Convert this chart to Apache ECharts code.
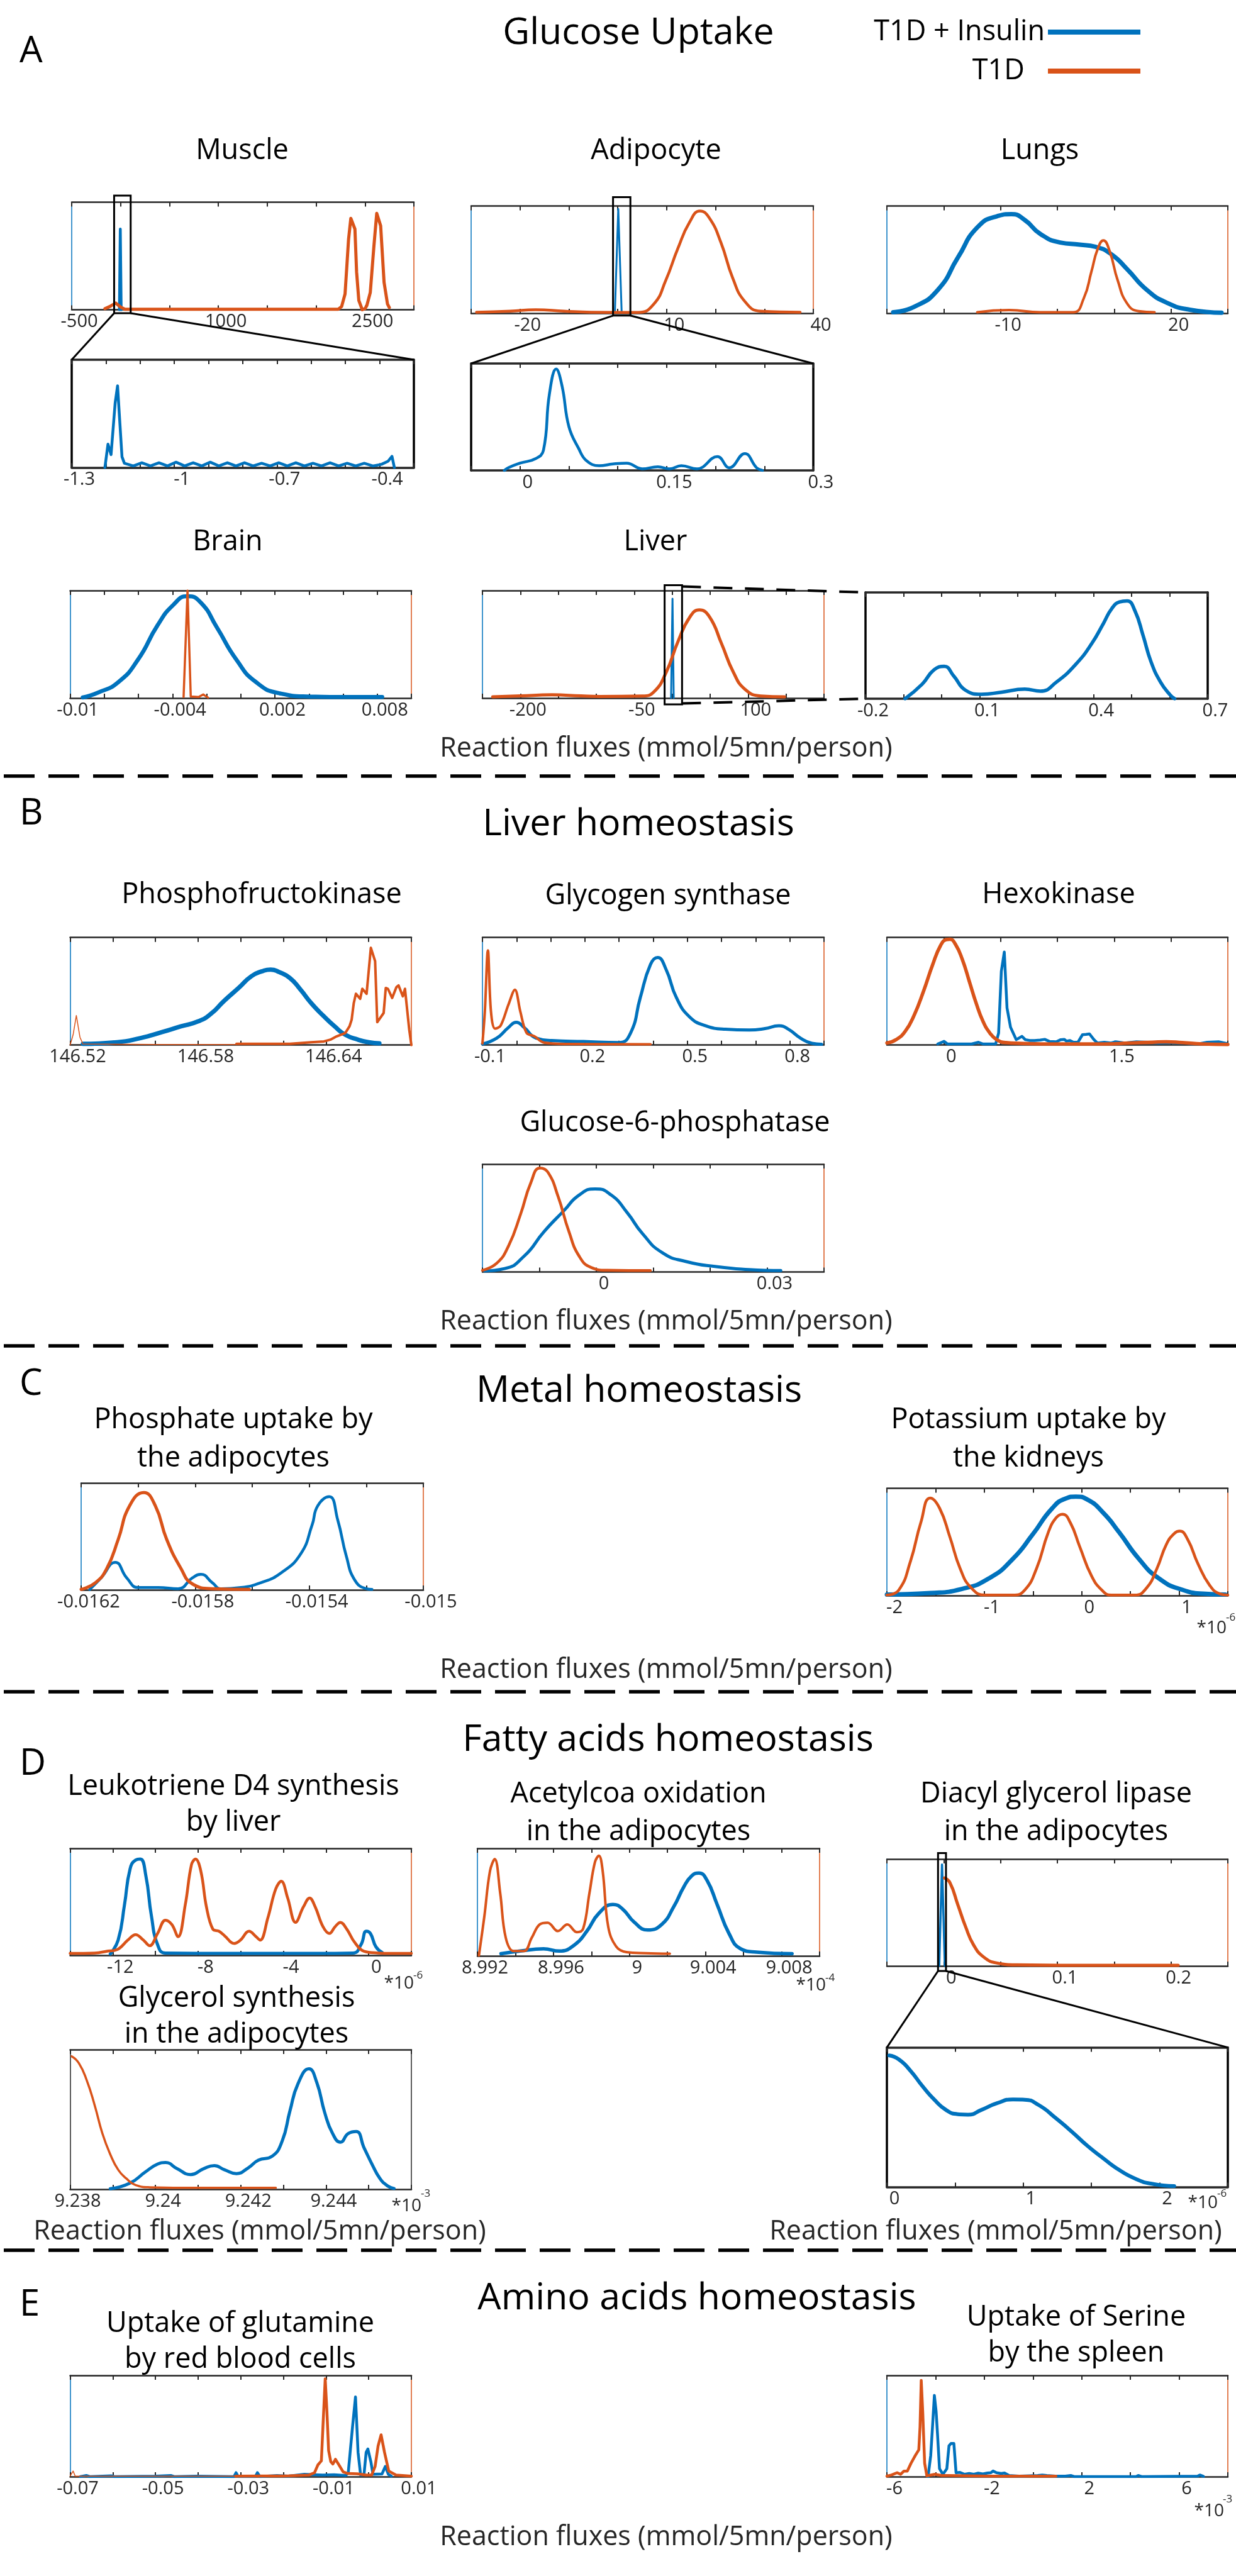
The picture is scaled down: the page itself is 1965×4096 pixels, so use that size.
<!DOCTYPE html>
<html><head><meta charset="utf-8">
<script src="https://cdn.jsdelivr.net/npm/echarts@6/dist/echarts.min.js"></script>
<style>html,body{margin:0;padding:0;background:#fff}#c{width:1965px;height:4096px}</style>
</head><body><div id="c"></div>
<script>
// ================= axis scales [min, max, interval] =================
const muscleScale = [-500, 3000, 500];
const adipoScale = [-30, 40, 10];
const lungsScale = [-30, 30, 10];
const muscleZoomScale = [-1.3, -0.3, 0.1];
const adipoZoomScale = [-0.05, 0.3, 0.05];
const brainScale = [-0.01, 0.01, 0.002];
const liverScale = [-250, 200, 50];
const liverZoomScale = [-0.2, 0.7, 0.1];
const pfkScale = [146.52, 146.68, 0.02];
const glycoScale = [-0.1, 0.9, 0.1];
const hexoScale = [-0.5, 2.5, 0.5];
const g6pScale = [-0.02, 0.04, 0.01];
const phosScale = [-0.0162, -0.015, 0.0002];
const potScale = [-2, 1.5, 0.5];
const leukoScale = [-14, 2, 2];
const acetScale = [8.992, 9.01, 0.002];
const diacylScale = [-0.05, 0.25, 0.05];
const glyScale = [9.238, 9.246, 0.001];
const dzScale = [0, 2.5, 0.5];
const glnScale = [-0.07, 0.01, 0.01];
const serScale = [-6, 8, 2];

// ================= tick labels =================
const muscleTicks = ['-500', '1000', '2500'];
const adipoTicks = ['-20', '10', '40'];
const lungsTicks = ['-10', '20'];
const muscleZoomTicks = ['-1.3', '-1', '-0.7', '-0.4'];
const adipoZoomTicks = ['0', '0.15', '0.3'];
const brainTicks = ['-0.01', '-0.004', '0.002', '0.008'];
const liverTicks = ['-200', '-50', '100'];
const liverZoomTicks = ['-0.2', '0.1', '0.4', '0.7'];
const pfkTicks = ['146.52', '146.58', '146.64'];
const glycoTicks = ['-0.1', '0.2', '0.5', '0.8'];
const hexoTicks = ['0', '1.5'];
const g6pTicks = ['0', '0.03'];
const phosTicks = ['-0.0162', '-0.0158', '-0.0154', '-0.015'];
const potTicks = ['-2', '-1', '0', '1'];
const leukoTicks = ['-12', '-8', '-4', '0'];
const acetTicks = ['8.992', '8.996', '9', '9.004', '9.008'];
const diacylTicks = ['0', '0.1', '0.2'];
const glyTicks = ['9.238', '9.24', '9.242', '9.244'];
const dzTicks = ['0', '1', '2'];
const glnTicks = ['-0.07', '-0.05', '-0.03', '-0.01', '0.01'];
const serTicks = ['-6', '-2', '2', '6'];

// ================= series values [flux, relative density] =================
const muscleBlue = [[-12,0],[-3,0.75],[6,0]];
const muscleRed = [[-160,0.01],[-110,0.03],[-50,0.062],[0,0.025],[44,0.005],[1000,0.005],[2226,0.005],[2261,0.03],[2296,0.147],[2332,0.657],[2355,0.85],[2397,0.75],[2414,0.35],[2437,0.085],[2472,0.0],[2500,0.01],[2519,0.04],[2554,0.16],[2590,0.58],[2620,0.896],[2660,0.78],[2695,0.255],[2730,0.054],[2749,0.02]];
const adipoBlue = [[-0.6,0],[0.1,0.973],[0.8,0]];
const adipoRed = [[-28.9,0.01],[-22,0.02],[-16.8,0.033],[-11,0.02],[-5.5,0.01],[4.2,0.008],[7.4,0.087],[9.8,0.305],[12.3,0.605],[14.7,0.85],[16.8,0.954],[18.7,0.89],[21.1,0.66],[23.5,0.33],[26,0.11],[29.2,0.02],[37.3,0.01]];
const lungsBlue = [[-28.9,0.01],[-25.2,0.06],[-21,0.22],[-17.5,0.52],[-14.1,0.8],[-10.6,0.905],[-8.1,0.924],[-5.75,0.87],[-3,0.74],[0.5,0.66],[3.95,0.64],[6.7,0.62],[9.5,0.55],[12.3,0.41],[15.7,0.22],[19.2,0.1],[23.3,0.033],[28.9,0.005]];
const lungsRed = [[-14.1,0.01],[-8.5,0.03],[-3,0.01],[2.8,0.01],[4.65,0.14],[6,0.39],[7.1,0.6],[8.1,0.68],[9.2,0.58],[10.6,0.31],[12.3,0.09],[14.3,0.02],[17.1,0.01]];
const muscleZoomBlue = [[-1.203,0],[-1.194,0.217],[-1.185,0.12],[-1.173,0.6],[-1.166,0.758],[-1.159,0.4],[-1.153,0.1],[-1.146,0.04],[-1.12,0.015],[-1.095,0.045],[-1.07,0.015],[-1.045,0.045],[-1.02,0.015],[-0.995,0.05],[-0.97,0.015],[-0.945,0.045],[-0.92,0.015],[-0.895,0.05],[-0.87,0.015],[-0.845,0.045],[-0.82,0.015],[-0.795,0.045],[-0.77,0.015],[-0.745,0.04],[-0.72,0.015],[-0.695,0.045],[-0.67,0.015],[-0.645,0.045],[-0.62,0.015],[-0.595,0.04],[-0.57,0.015],[-0.545,0.045],[-0.52,0.015],[-0.495,0.04],[-0.47,0.015],[-0.445,0.04],[-0.42,0.015],[-0.395,0.03],[-0.375,0.06],[-0.364,0.104],[-0.357,0.0]];
const adipoZoomBlue = [[-0.016,0],[-0.012,0.025],[0.0,0.068],[0.016,0.11],[0.024,0.19],[0.03,0.71],[0.037,0.948],[0.043,0.79],[0.05,0.41],[0.06,0.205],[0.068,0.091],[0.081,0.044],[0.095,0.06],[0.109,0.068],[0.125,0.015],[0.141,0.034],[0.153,0.015],[0.165,0.044],[0.181,0.015],[0.202,0.129],[0.214,0.025],[0.23,0.158],[0.242,0.025],[0.248,0]];
const brainBlue = [[-0.00926,0.006],[-0.00834,0.053],[-0.00718,0.148],[-0.00603,0.356],[-0.00487,0.678],[-0.00395,0.867],[-0.00312,0.947],[-0.00233,0.886],[-0.00141,0.66],[-0.00025,0.356],[0.0009,0.148],[0.00229,0.044],[0.0039,0.015],[0.00621,0.01],[0.00829,0.01]];
const brainRed = [[-0.00335,0.01],[-0.00312,1.0],[-0.00293,0.015],[-0.00247,0.01],[-0.0022,0.034],[-0.00192,0.005]];
const liverBlue = [[-1.5,0],[0.4,0.924],[2,0]];
const liverRed = [[-236.5,0.011],[-200,0.02],[-158.5,0.03],[-120,0.02],[-96,0.015],[-39,0.019],[-23.4,0.0625],[-7.8,0.242],[7.7,0.527],[23.3,0.754],[35.8,0.82],[49.3,0.754],[64.9,0.508],[80.5,0.242],[96,0.081],[116.8,0.019],[148,0.011]];
const liverZoomBlue = [[-0.096,0],[-0.051,0.137],[-0.02,0.271],[0.007,0.305],[0.032,0.214],[0.063,0.08],[0.105,0.042],[0.157,0.061],[0.219,0.09],[0.26,0.071],[0.302,0.156],[0.354,0.328],[0.395,0.519],[0.426,0.71],[0.447,0.844],[0.468,0.91],[0.488,0.92],[0.509,0.824],[0.53,0.595],[0.551,0.347],[0.576,0.156],[0.602,0.032],[0.613,0]];
const pfkBlue = [[146.526,0.011],[146.542,0.026],[146.553,0.065],[146.563,0.12],[146.572,0.174],[146.58,0.22],[146.586,0.29],[146.592,0.407],[146.599,0.531],[146.605,0.64],[146.61,0.686],[146.614,0.702],[146.618,0.679],[146.623,0.624],[146.628,0.516],[146.633,0.391],[146.639,0.267],[146.644,0.174],[146.649,0.096],[146.655,0.05],[146.66,0.026],[146.665,0.016]];
const pfkRedLeft = [[146.52,0],[146.5214,0.096],[146.5229,0.275],[146.5246,0.073],[146.526,0.01],[146.56,0.005],[146.598,0.006]];
const pfkRed = [[146.598,0.011],[146.623,0.011],[146.633,0.026],[146.639,0.034],[146.642,0.05],[146.645,0.081],[146.649,0.112],[146.651,0.174],[146.652,0.236],[146.653,0.391],[146.654,0.477],[146.656,0.43],[146.657,0.523],[146.659,0.477],[146.661,0.904],[146.663,0.78],[146.664,0.213],[146.667,0.298],[146.668,0.531],[146.669,0.523],[146.671,0.438],[146.673,0.539],[146.674,0.554],[146.676,0.453],[146.677,0.523],[146.679,0.143],[146.68,0]];
const glycoBlue = [[-0.1,0.01],[-0.058,0.065],[-0.024,0.163],[-0.001,0.212],[0.022,0.163],[0.057,0.065],[0.103,0.042],[0.196,0.033],[0.3,0.023],[0.334,0.114],[0.362,0.44],[0.392,0.75],[0.413,0.814],[0.438,0.7],[0.468,0.44],[0.507,0.26],[0.554,0.179],[0.611,0.147],[0.681,0.14],[0.727,0.153],[0.768,0.179],[0.796,0.147],[0.831,0.065],[0.865,0.016],[0.893,0.007]];
const glycoRed = [[-0.1,0.016],[-0.093,0.31],[-0.084,0.88],[-0.075,0.31],[-0.063,0.153],[-0.047,0.179],[-0.024,0.375],[-0.005,0.515],[0.011,0.31],[0.029,0.114],[0.052,0.081],[0.08,0.023],[0.149,0.01],[0.392,0.007]];
const hexoBlue = [[-0.053,0.01],[0.003,0.034],[0.034,0.01],[0.245,0.01],[0.306,0.026],[0.346,0.01],[0.457,0.01],[0.483,0.112],[0.507,0.686],[0.533,0.865],[0.557,0.345],[0.588,0.166],[0.638,0.05],[0.688,0.081],[0.718,0.05],[0.758,0.042],[0.799,0.042],[0.849,0.047],[0.889,0.053],[0.93,0.034],[0.99,0.03],[1.03,0.05],[1.06,0.053],[1.08,0.037],[1.111,0.042],[1.141,0.026],[1.181,0.026],[1.221,0.096],[1.252,0.099],[1.282,0.104],[1.322,0.05],[1.352,0.019],[1.413,0.026],[1.473,0.019],[1.514,0.031],[1.594,0.019],[1.695,0.03],[1.795,0.026],[1.896,0.019],[1.977,0.023],[2.097,0.019],[2.238,0.01],[2.319,0.026],[2.419,0.03],[2.49,0.014]];
const hexoRed = [[-0.5,0.019],[-0.419,0.05],[-0.339,0.127],[-0.258,0.283],[-0.178,0.5],[-0.097,0.748],[-0.027,0.927],[0.023,0.981],[0.054,0.984],[0.104,0.935],[0.164,0.795],[0.225,0.593],[0.285,0.391],[0.346,0.22],[0.406,0.112],[0.466,0.05],[0.547,0.023],[0.668,0.016],[0.99,0.01],[1.433,0.01],[1.634,0.019],[1.836,0.026],[1.957,0.031],[2.097,0.023],[2.279,0.01],[2.5,0.006]];
const g6pBlue = [[-0.0196,0.01],[-0.0161,0.032],[-0.0127,0.146],[-0.0092,0.373],[-0.0057,0.568],[-0.003,0.714],[-0.0002,0.77],[0.0026,0.714],[0.0054,0.552],[0.0081,0.357],[0.0116,0.179],[0.0158,0.097],[0.0213,0.049],[0.0268,0.023],[0.0324,0.013]];
const g6pRed = [[-0.02,0.016],[-0.0175,0.081],[-0.0154,0.244],[-0.0133,0.536],[-0.0115,0.828],[-0.0099,0.964],[-0.0085,0.925],[-0.0067,0.698],[-0.0048,0.373],[-0.003,0.146],[-0.0009,0.042],[0.0019,0.016],[0.0095,0.013]];
const phosBlue = [[-0.01617,0.004],[-0.01613,0.112],[-0.01608,0.258],[-0.01604,0.112],[-0.016,0.022],[-0.01593,0.022],[-0.01586,0.011],[-0.01581,0.112],[-0.01578,0.146],[-0.01574,0.067],[-0.01571,0.011],[-0.01564,0.022],[-0.01557,0.067],[-0.0155,0.157],[-0.01543,0.337],[-0.01539,0.607],[-0.01537,0.787],[-0.01533,0.872],[-0.0153,0.652],[-0.01527,0.315],[-0.01524,0.09],[-0.0152,0.011],[-0.01518,0.004]];
const phosRed = [[-0.0162,0.0045],[-0.01615,0.067],[-0.01611,0.2],[-0.01607,0.472],[-0.01603,0.787],[-0.01598,0.91],[-0.01594,0.787],[-0.0159,0.472],[-0.01585,0.2],[-0.01581,0.056],[-0.01574,0.011],[-0.01561,0.0045]];
const potBlue = [[-2,0.009],[-1.555,0.023],[-1.232,0.061],[-0.949,0.162],[-0.707,0.342],[-0.505,0.568],[-0.302,0.815],[-0.165,0.905],[-0.06,0.923],[0.061,0.894],[0.223,0.77],[0.384,0.59],[0.587,0.342],[0.789,0.162],[1.031,0.054],[1.274,0.016],[1.476,0.009]];
const potRed = [[-2,0.0045],[-1.879,0.05],[-1.758,0.32],[-1.652,0.68],[-1.555,0.91],[-1.459,0.815],[-1.353,0.545],[-1.248,0.252],[-1.135,0.072],[-0.99,0.0045],[-0.707,0.0045],[-0.586,0.05],[-0.464,0.252],[-0.343,0.59],[-0.263,0.725],[-0.198,0.759],[-0.117,0.68],[-0.02,0.455],[0.1,0.185],[0.207,0.05],[0.304,0.0045],[0.546,0.0045],[0.667,0.072],[0.772,0.252],[0.869,0.477],[0.95,0.579],[1.007,0.601],[1.088,0.523],[1.193,0.297],[1.314,0.095],[1.419,0.016],[1.5,0.0045]];
const leukoBlue = [[-12.12,0.012],[-11.75,0.141],[-11.45,0.474],[-11.19,0.807],[-10.93,0.89],[-10.71,0.9],[-10.45,0.744],[-10.19,0.37],[-9.9,0.1],[-9.53,0.021],[-6.2,0.017],[-2.51,0.017],[-0.73,0.021],[-0.36,0.1],[-0.11,0.225],[0.08,0.204],[0.34,0.079],[0.63,0.027]];
const leukoRed = [[-14,0.017],[-12.85,0.021],[-12.3,0.037],[-11.75,0.058],[-11.3,0.141],[-10.93,0.193],[-10.56,0.141],[-10.27,0.089],[-9.9,0.204],[-9.53,0.328],[-9.23,0.287],[-8.94,0.173],[-8.6,0.474],[-8.31,0.848],[-8.12,0.9],[-7.87,0.786],[-7.61,0.453],[-7.31,0.245],[-7.02,0.225],[-6.76,0.183],[-6.31,0.11],[-6.02,0.141],[-5.61,0.225],[-5.28,0.173],[-5.09,0.141],[-4.73,0.349],[-4.36,0.62],[-4.1,0.692],[-3.8,0.536],[-3.43,0.308],[-3.06,0.453],[-2.77,0.536],[-2.51,0.453],[-2.14,0.266],[-1.84,0.204],[-1.58,0.266],[-1.33,0.308],[-1.03,0.245],[-0.66,0.121],[-0.22,0.037],[0.45,0.021],[1.19,0.017],[2,0.017]];
const acetBlue = [[8.99324,0.02],[8.99424,0.045],[8.99548,0.066],[8.99631,0.045],[8.99714,0.107],[8.99776,0.231],[8.99839,0.396],[8.99913,0.478],[8.99963,0.437],[9.00025,0.313],[9.00096,0.241],[9.0017,0.293],[9.00233,0.458],[9.00286,0.643],[9.00328,0.746],[9.00365,0.771],[9.00407,0.705],[9.00461,0.478],[9.00523,0.21],[9.00585,0.066],[9.00668,0.035],[9.00855,0.02]];
const acetRed = [[8.99208,0.004],[8.99237,0.375],[8.99266,0.788],[8.99291,0.9],[8.9932,0.581],[8.99349,0.169],[8.99391,0.045],[8.99445,0.045],[8.99486,0.169],[8.99528,0.293],[8.99569,0.309],[8.99623,0.231],[8.99673,0.293],[8.99723,0.221],[8.99756,0.252],[8.99789,0.581],[8.99818,0.87],[8.99839,0.932],[8.99859,0.788],[8.99888,0.272],[8.9993,0.087],[8.99984,0.035],[9.00087,0.025],[9.00212,0.02]];
const diacylBlue = [[-0.004,0],[-0.0015,0.948],[0.001,0]];
const diacylRed = [[0.0006,0.823],[0.0054,0.78],[0.0124,0.573],[0.0193,0.365],[0.0262,0.198],[0.0352,0.083],[0.047,0.027],[0.0643,0.01],[0.1405,0.006],[0.2063,0.006]];
const glyBlue = [[9.238942,0.003],[9.239404,0.044],[9.239774,0.126],[9.240051,0.18],[9.240236,0.191],[9.240513,0.146],[9.240827,0.105],[9.241123,0.146],[9.241381,0.169],[9.241621,0.139],[9.241898,0.112],[9.242175,0.153],[9.242415,0.208],[9.24273,0.235],[9.24297,0.344],[9.243155,0.563],[9.24334,0.754],[9.243599,0.863],[9.243783,0.764],[9.243968,0.549],[9.244153,0.399],[9.244338,0.337],[9.244522,0.399],[9.244707,0.413],[9.244892,0.296],[9.245076,0.18],[9.245261,0.078],[9.245446,0.023],[9.245594,0.005]];
const glyRed = [[9.238037,0.952],[9.238203,0.904],[9.238388,0.781],[9.238573,0.604],[9.238757,0.399],[9.238942,0.249],[9.239127,0.139],[9.239312,0.078],[9.239534,0.03],[9.239866,0.014],[9.240975,0.01],[9.242822,0.01]];
const dzBlue = [[0.017,0.943],[0.087,0.915],[0.173,0.833],[0.26,0.724],[0.346,0.628],[0.433,0.553],[0.52,0.522],[0.595,0.519],[0.693,0.553],[0.808,0.601],[0.924,0.628],[1.01,0.626],[1.114,0.587],[1.241,0.492],[1.357,0.396],[1.472,0.294],[1.588,0.205],[1.703,0.123],[1.819,0.061],[1.935,0.025],[2.107,0.007]];
const glnBlue = [[-0.0676,0],[-0.0662,0.011],[-0.0654,0],[-0.0604,0.008],[-0.0596,0],[-0.0499,0.005],[-0.0464,0.011],[-0.0456,0],[-0.0403,0.004],[-0.0316,0],[-0.0311,0.039],[-0.0306,0],[-0.0266,0],[-0.0261,0.039],[-0.0255,0],[-0.0215,0.011],[-0.0188,0.005],[-0.0151,0.023],[-0.0108,0.016],[-0.0081,0.019],[-0.0054,0.011],[-0.0048,0.039],[-0.0038,0.491],[-0.0031,0.787],[-0.0025,0.241],[-0.0019,0.016],[-0.0011,0.023],[-0.0006,0.241],[-0.0002,0.273],[0.0005,0.148],[0.001,0.023],[0.0031,0.026],[0.0039,0.101],[0.0046,0.023],[0.0053,0.005]];
const glnRedLeft = [[-0.07,0.005],[-0.0693,0.055],[-0.0688,0.004],[-0.05,0.004],[-0.0312,0.004]];
const glnRed = [[-0.0312,0.005],[-0.0188,0.008],[-0.014,0.016],[-0.0127,0.039],[-0.0119,0.117],[-0.0111,0.156],[-0.0107,0.522],[-0.0102,0.966],[-0.0098,0.646],[-0.0094,0.257],[-0.0089,0.148],[-0.0084,0.125],[-0.0078,0.171],[-0.007,0.117],[-0.006,0.047],[-0.0049,0.031],[-0.0027,0.028],[-0.0006,0.016],[0.0007,0.016],[0.0015,0.101],[0.0022,0.304],[0.0029,0.413],[0.0037,0.241],[0.0047,0.055],[0.0064,0.016],[0.01,0.005]];
const serBlue = [[-4.31,0],[-4.2,0.21],[-4.12,0.522],[-4.05,0.802],[-3.98,0.646],[-3.92,0.413],[-3.84,0.078],[-3.7,0.023],[-3.54,0.078],[-3.45,0.304],[-3.37,0.327],[-3.25,0.327],[-3.16,0.039],[-3.0,0.042],[-2.81,0.023],[-2.62,0.031],[-2.43,0.023],[-2.25,0.034],[-2.06,0.026],[-1.87,0.036],[-1.73,0.039],[-1.64,0.055],[-1.5,0.039],[-1.31,0.031],[-1.17,0.036],[-0.98,0.011],[-0.56,0.005],[0.19,0.011],[0.38,0.016],[0.57,0.011],[0.94,0.005],[1.32,0.005],[1.55,0.011],[1.69,0],[4.23,0],[4.32,0.011],[4.46,0],[6.76,0.005],[6.85,0.016],[7.0,0.002]];
const serRed = [[-6,0.005],[-5.81,0.016],[-5.58,0.039],[-5.44,0.023],[-5.3,0.055],[-5.16,0.055],[-5.01,0.132],[-4.83,0.21],[-4.69,0.265],[-4.64,0.49],[-4.59,0.95],[-4.53,0.646],[-4.45,0.132],[-4.36,0.008],[-4.03,0.023],[-3.75,0.011],[-3.47,0.011],[-1.68,0.005],[0.94,0.005]];

// ================= styling / layout =================
const FONT = '"Open Sans","Noto Sans",sans-serif';
const BLUE = '#0072BD', RED = '#D95319', INK = '#262626';
const NAME_B = 'T1D + Insulin', NAME_R = 'T1D';

// grid rectangles: [left, top, width, height]; series: [data, side, lineWidth, smooth]
const panels = [
  {g:[114,321.5,544,171], sc:muscleScale, tk:muscleTicks, s:[[muscleBlue,'b',4.5,0],[muscleRed,'r',5,0]]},
  {g:[749,327.6,544,170.5], sc:adipoScale, tk:adipoTicks, s:[[adipoBlue,'b',3,0],[adipoRed,'r',4.5,0.5]]},
  {g:[1410,327.6,542,170.5], sc:lungsScale, tk:lungsTicks, s:[[lungsBlue,'b',7,0.55],[lungsRed,'r',4,0.5]]},
  {g:[114,572,544,171.5], sc:muscleZoomScale, tk:muscleZoomTicks, frame:'zoom', s:[[muscleZoomBlue,'b',4.5,0]]},
  {g:[749,578,544,170], sc:adipoZoomScale, tk:adipoZoomTicks, frame:'zoom', s:[[adipoZoomBlue,'b',4.5,0.45]]},
  {g:[111.5,939,542.5,171], sc:brainScale, tk:brainTicks, s:[[brainBlue,'b',6.5,0.55],[brainRed,'r',3.5,0]]},
  {g:[767,939,543,171], sc:liverScale, tk:liverTicks, s:[[liverBlue,'b',3,0],[liverRed,'r',5,0.5]]},
  {g:[1376,942,544,169], sc:liverZoomScale, tk:liverZoomTicks, frame:'zoom', s:[[liverZoomBlue,'b',5.5,0.5]]},
  {g:[111.5,1490.7,542.5,171], sc:pfkScale, tk:pfkTicks, s:[[pfkBlue,'b',7,0.55],[pfkRedLeft,'r',1.5,0],[pfkRed,'r',4,0]]},
  {g:[767,1490.7,543,171], sc:glycoScale, tk:glycoTicks, s:[[glycoBlue,'b',5,0.5],[glycoRed,'r',4,0.35]]},
  {g:[1410,1490.7,542,171], sc:hexoScale, tk:hexoTicks, s:[[hexoBlue,'b',4.5,0],[hexoRed,'r',5.5,0.5]]},
  {g:[767,1851,543,171.6], sc:g6pScale, tk:g6pTicks, s:[[g6pBlue,'b',5,0.55],[g6pRed,'r',4.5,0.5]]},
  {g:[129,2358,544,170], sc:phosScale, tk:phosTicks, s:[[phosBlue,'b',4.5,0.5],[phosRed,'r',5,0.5]]},
  {g:[1410,2366.6,542,170.4], sc:potScale, tk:potTicks, s:[[potBlue,'b',7,0.55],[potRed,'r',4.5,0.5]]},
  {g:[111.5,2939,542.5,170], sc:leukoScale, tk:leukoTicks, s:[[leukoBlue,'b',5,0.5],[leukoRed,'r',4.5,0.4]]},
  {g:[759,2939,544,171], sc:acetScale, tk:acetTicks, s:[[acetBlue,'b',5.5,0.5],[acetRed,'r',4,0.4]]},
  {g:[1410,2956,542,170], sc:diacylScale, tk:diacylTicks, s:[[diacylBlue,'b',3.5,0],[diacylRed,'r',5,0.5]]},
  {g:[111.5,3259,542.5,222], sc:glyScale, tk:glyTicks, frame:'thin', s:[[glyBlue,'b',5,0.5],[glyRed,'r',3.5,0.5]]},
  {g:[1410,3255.6,542,222], sc:dzScale, tk:dzTicks, frame:'zoom', s:[[dzBlue,'b',6,0.55]]},
  {g:[111.5,3777,542.5,161], sc:glnScale, tk:glnTicks, s:[[glnBlue,'b',4.5,0],[glnRedLeft,'r',1.5,0],[glnRed,'r',4.5,0]]},
  {g:[1410,3777,542,161], sc:serScale, tk:serTicks, s:[[serBlue,'b',4.5,0],[serRed,'r',4.5,0]]}
];

function labeler(labels, step) {
  return function (v) {
    for (const s of labels) { if (Math.abs(parseFloat(s) - v) < step * 0.01) return s; }
    return '';
  };
}

const grid = [], xAxis = [], yAxis = [], series = [];
panels.forEach((p, i) => {
  const [l, t, w, h] = p.g;
  grid.push({left: l, top: t, width: w, height: h, show: false});
  const tb = p.frame === 'zoom' ? 3.5 : 2.5;
  const side = p.frame === 'zoom' ? {l: '#000', r: '#000', w: 3.5}
             : p.frame === 'thin' ? {l: INK, r: INK, w: 1.5}
             : {l: BLUE, r: RED, w: 1.5};
  const [mn, mx, iv] = p.sc;
  const base = {type: 'value', gridIndex: i, min: mn, max: mx, interval: iv, splitLine: {show: false}};
  const line = {show: true, onZero: false, lineStyle: {color: INK, width: tb}};
  const tick = {show: true, inside: true, length: 7, lineStyle: {color: INK, width: 2}};
  xAxis.push(Object.assign({}, base, {position: 'bottom', axisLine: line, axisTick: tick,
    axisLabel: {show: true, formatter: labeler(p.tk, iv), fontFamily: FONT, fontSize: 29, color: INK,
      margin: 5, padding: [0, 0, 0, 24], showMinLabel: true, showMaxLabel: true}}));
  xAxis.push(Object.assign({}, base, {position: 'top', axisLine: line, axisTick: tick, axisLabel: {show: false}}));
  const yb = {type: 'value', gridIndex: i, min: 0, max: 1, splitLine: {show: false}, axisTick: {show: false}, axisLabel: {show: false}};
  yAxis.push(Object.assign({}, yb, {position: 'left', axisLine: {show: true, onZero: false, lineStyle: {color: side.l, width: side.w}}}));
  yAxis.push(Object.assign({}, yb, {position: 'right', axisLine: {show: true, onZero: false, lineStyle: {color: side.r, width: side.w}}}));
  p.s.forEach(([data, which, width, sm]) => {
    const c = which === 'b' ? BLUE : RED;
    series.push({
      type: 'line', name: which === 'b' ? NAME_B : NAME_R,
      xAxisIndex: 2 * i, yAxisIndex: which === 'b' ? 2 * i : 2 * i + 1,
      data: data, showSymbol: false, symbol: 'none', smooth: sm || false,
      color: c, itemStyle: {color: c}, lineStyle: {color: c, width: width, cap: 'round', join: 'round'},
      z: which === 'b' ? 3 : 4, silent: true, animation: false
    });
  });
});

// ---------------- text (titles, labels) ----------------
function T(text, x, capTop, size, lh, align, color) {
  lh = lh || Math.round(size * 1.25);
  return {text: text, left: x, top: capTop + 0.42 * size - lh / 2, textAlign: align || 'center', padding: 0, itemGap: 0,
    textStyle: {fontFamily: FONT, fontSize: size, fontWeight: 'normal', color: color || '#000', lineHeight: lh}};
}
const AX = 'Reaction fluxes (mmol/5mn/person)';
const title = [
  T('A', 31, 58, 58, 0, 'left'), T('B', 31, 1270, 58, 0, 'left'), T('C', 31, 2177, 58, 0, 'left'),
  T('D', 31, 2781, 58, 0, 'left'), T('E', 31, 3641, 58, 0, 'left'),
  T('Glucose Uptake', 1015, 28, 59), T('Liver homeostasis', 1015, 1286, 59), T('Metal homeostasis', 1016, 2187, 59),
  T('Fatty acids homeostasis', 1062, 2742, 59), T('Amino acids homeostasis', 1108, 3630, 59),
  T('Muscle', 385, 221, 45), T('Adipocyte', 1043, 221, 45), T('Lungs', 1653, 221, 45),
  T('Brain', 362, 843, 45), T('Liver', 1042, 843, 45),
  T('Phosphofructokinase', 416, 1404, 45), T('Glycogen synthase', 1062, 1406, 45), T('Hexokinase', 1683, 1404, 45),
  T('Glucose-6-phosphatase', 1073, 1767, 45),
  T('Phosphate uptake by\nthe adipocytes', 371, 2239, 45, 61), T('Potassium uptake by\nthe kidneys', 1635, 2239, 45, 61),
  T('Leukotriene D4 synthesis\nby liver', 371, 2822, 45, 57), T('Acetylcoa oxidation\nin the adipocytes', 1015, 2834, 45, 60),
  T('Diacyl glycerol lipase\nin the adipocytes', 1679, 2834, 45, 60),
  T('Glycerol synthesis\nin the adipocytes', 376, 3159, 45, 57),
  T('Uptake of glutamine\nby red blood cells', 382, 3676, 45, 57), T('Uptake of Serine\nby the spleen', 1711, 3666, 45, 57),
  T(AX, 1059, 1173, 43, 0, 'center', INK), T(AX, 1059, 2084, 43, 0, 'center', INK), T(AX, 1059, 2638, 43, 0, 'center', INK),
  T(AX, 413, 3531, 43, 0, 'center', INK), T(AX, 1583, 3531, 43, 0, 'center', INK), T(AX, 1059, 4017, 43, 0, 'center', INK),
  // axis multipliers
  T('*10', 1950, 2577, 28, 0, 'right', INK), T('-6', 1949, 2565, 17, 0, 'left', INK),
  T('*10', 658, 3142, 28, 0, 'right', INK), T('-6', 657, 3134, 17, 0, 'left', INK),
  T('*10', 1313, 3145, 28, 0, 'right', INK), T('-4', 1312, 3138, 17, 0, 'left', INK),
  T('*10', 670, 3496, 28, 0, 'right', INK), T('-3', 669, 3481, 17, 0, 'left', INK),
  T('*10', 1936, 3491, 28, 0, 'right', INK), T('-6', 1935, 3481, 17, 0, 'left', INK),
  T('*10', 1946, 3981, 28, 0, 'right', INK), T('-3', 1944, 3967, 17, 0, 'left', INK)
];

const legend = [
  {data: [{name: NAME_B, icon: 'rect', itemStyle: {color: BLUE}}], right: 152, top: 26, orient: 'vertical', align: 'right',
   itemWidth: 147, itemHeight: 8, padding: 0, selectedMode: false,
   textStyle: {fontFamily: FONT, fontSize: 45, color: '#000', lineHeight: 50}},
  {data: [{name: NAME_R, icon: 'rect', itemStyle: {color: RED}}], right: 152, top: 88, orient: 'vertical', align: 'right',
   itemWidth: 147, itemHeight: 8, padding: 0, selectedMode: false,
   textStyle: {fontFamily: FONT, fontSize: 45, color: '#000', lineHeight: 50, padding: [0, 32, 0, 0]}}
];

const chart = echarts.init(document.getElementById('c'), null, {renderer: 'canvas', width: 1965, height: 4096});
chart.setOption({animation: false, backgroundColor: '#fff', title, legend, grid, xAxis, yAxis, series});

// ---------------- decorations: separators, zoom boxes, connectors ----------------
const px = (pi, v) => chart.convertToPixel({xAxisIndex: 2 * pi}, v);
const gfx = [];
[1234, 2140, 2690, 3578].forEach(y => gfx.push({type: 'line', z: 100, shape: {x1: 6, y1: y, x2: 1965, y2: y},
  style: {stroke: '#000', lineWidth: 5.5, lineDash: [49, 22]}}));
function zoomBox(pi, v1, v2, y1, y2) {
  const a = px(pi, v1), b = px(pi, v2);
  gfx.push({type: 'rect', z: 100, shape: {x: a, y: y1, width: b - a, height: y2 - y1}, style: {fill: 'none', stroke: '#000', lineWidth: 3}});
  return [a, b];
}
function seg(x1, y1, x2, y2, dash, w) {
  gfx.push({type: 'line', z: 100, shape: {x1, y1, x2, y2}, style: {stroke: '#000', lineWidth: w || 3, lineDash: dash || null}});
}
let r = zoomBox(0, -66, 103, 311, 498);
seg(r[0], 498, panels[3].g[0], panels[3].g[1]); seg(r[1], 498, panels[3].g[0] + panels[3].g[2], panels[3].g[1]);
r = zoomBox(1, -0.97, 2.58, 313.6, 501.8);
seg(r[0], 501.8, panels[4].g[0], panels[4].g[1]); seg(r[1], 501.8, panels[4].g[0] + panels[4].g[2], panels[4].g[1]);
r = zoomBox(6, -10, 13, 930.4, 1120.1);
seg(r[1], 932.6, panels[7].g[0], panels[7].g[1], [30, 20], 4); seg(r[1], 1118.5, panels[7].g[0], panels[7].g[1] + panels[7].g[3], [30, 20], 4);
r = zoomBox(16, -0.005, 0.002, 2946.6, 3134);
seg(r[0], 3134, panels[18].g[0], panels[18].g[1]); seg(r[1], 3134, panels[18].g[0] + panels[18].g[2], panels[18].g[1]);
chart.setOption({graphic: gfx});
</script></body></html>
